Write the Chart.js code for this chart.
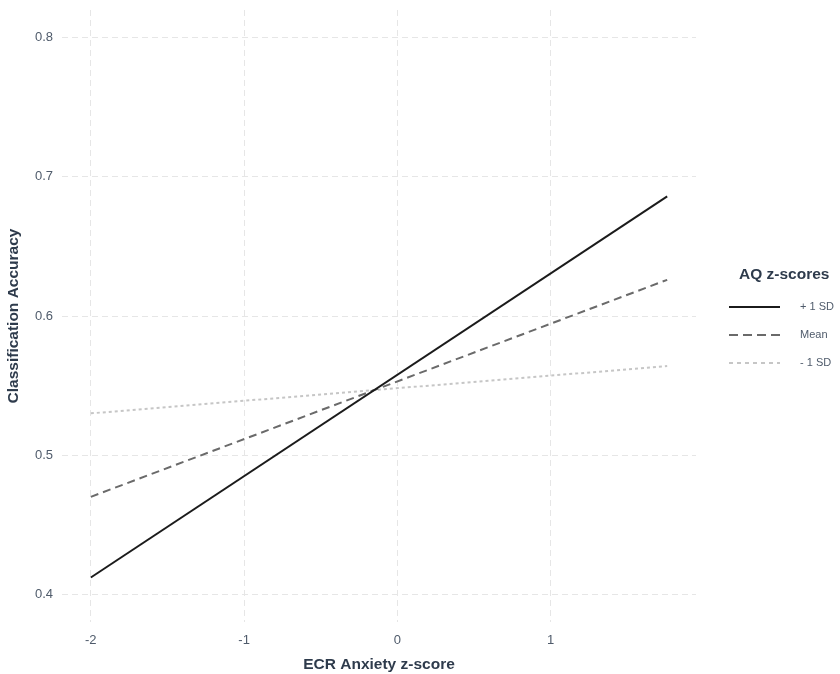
<!DOCTYPE html>
<html>
<head>
<meta charset="utf-8">
<script src="https://cdn.jsdelivr.net/npm/chart.js@4/dist/chart.umd.min.js"></script>
<style>
html,body{margin:0;padding:0;background:#fff;}
#wrap{width:840px;height:674px;}
</style>
</head>
<body>
<div id="wrap"><canvas id="c" width="840" height="674"></canvas></div>
<script>
const xValues = [-2, 1.76];
const plusSD = [0.412, 0.686];
const meanVals = [0.470, 0.626];
const minusSD = [0.530, 0.564];
const seriesLabels = ['+ 1 SD', 'Mean', '- 1 SD'];
const xTicks = [-2, -1, 0, 1];
const yTicks = [0.4, 0.5, 0.6, 0.7, 0.8];
const legendTitle = 'AQ z-scores';

const toPts = (ys) => xValues.map((x, i) => ({x: x, y: ys[i]}));

const FONT = "'Liberation Sans', Arial, sans-serif";
const TICK_COLOR = '#4f5b6b';
const TITLE_COLOR = '#2e3b4c';
const GRID = '#e6e6e6';

const legendPlugin = {
  id: 'customLegend',
  afterDraw(chart) {
    const ctx = chart.ctx;
    ctx.save();
    ctx.fillStyle = TITLE_COLOR;
    ctx.font = "bold 15.5px " + FONT;
    ctx.textBaseline = 'middle';
    ctx.textAlign = 'left';
    ctx.fillText(legendTitle, 739, 275);
    chart.data.datasets.forEach((ds, i) => {
      const y = 307 + i * 28;
      ctx.beginPath();
      ctx.setLineDash(ds.legendDash || ds.borderDash || []);
      ctx.strokeStyle = ds.borderColor;
      ctx.lineWidth = ds.borderWidth;
      ctx.moveTo(729, y);
      ctx.lineTo(780, y);
      ctx.stroke();
      ctx.setLineDash([]);
      ctx.fillStyle = TICK_COLOR;
      ctx.font = "11px " + FONT;
      ctx.fillText(ds.label, 800, y);
    });
    ctx.restore();
  }
};

new Chart(document.getElementById('c'), {
  type: 'line',
  data: {
    datasets: [
      {label: seriesLabels[0], data: toPts(plusSD), borderColor: '#1b1b1b', borderWidth: 2, pointRadius: 0, borderDash: []},
      {label: seriesLabels[1], data: toPts(meanVals), borderColor: '#6a6a6a', borderWidth: 2, pointRadius: 0, borderDash: [8, 5], legendDash: [9, 5]},
      {label: seriesLabels[2], data: toPts(minusSD), borderColor: '#c6c6c6', borderWidth: 2, pointRadius: 0, borderDash: [3, 3], legendDash: [4, 4]}
    ]
  },
  options: {
    responsive: false,
    animation: false,
    layout: {padding: {top: 10, right: 144, left: 0, bottom: 0}},
    plugins: {legend: {display: false}, tooltip: {enabled: false}},
    scales: {
      x: {
        type: 'linear',
        min: -2.188,
        max: 1.948,
        afterBuildTicks: (axis) => { axis.ticks = xTicks.map(v => ({value: v})); },
        afterFit: (axis) => { axis.height = 52; axis.paddingLeft = 0; axis.paddingRight = 0; },
        border: {display: false, dash: [6, 4]},
        grid: {color: GRID, lineWidth: 1, drawTicks: false},
        ticks: {color: TICK_COLOR, font: {family: FONT, size: 13}, padding: 11, callback: (v) => String(v)},
        title: {display: true, text: 'ECR Anxiety z-score', color: TITLE_COLOR, font: {family: FONT, size: 15.5, weight: 'bold'}, padding: {top: 3, bottom: 0}}
      },
      y: {
        type: 'linear',
        min: 0.38,
        max: 0.82,
        afterBuildTicks: (axis) => { axis.ticks = yTicks.map(v => ({value: v})); },
        afterFit: (axis) => { axis.width = 62; axis.paddingTop = 0; axis.paddingBottom = 0; },
        border: {display: false, dash: [6, 4]},
        grid: {color: GRID, lineWidth: 1, drawTicks: false},
        ticks: {color: TICK_COLOR, font: {family: FONT, size: 13}, padding: 9, callback: (v) => v.toFixed(1)},
        title: {display: true, text: 'Classification Accuracy', color: TITLE_COLOR, font: {family: FONT, size: 15.5, weight: 'bold'}, padding: {top: 4, bottom: 0}}
      }
    }
  },
  plugins: [legendPlugin]
});
</script>
</body>
</html>
